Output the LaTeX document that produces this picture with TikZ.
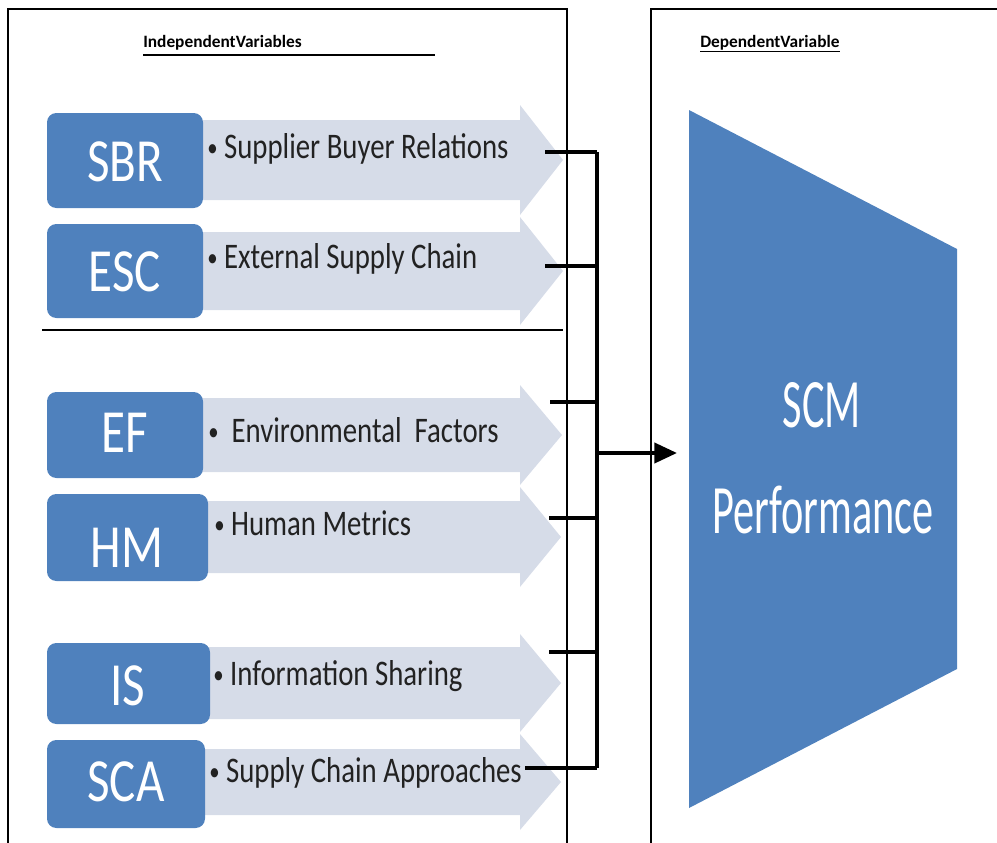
\documentclass[tikz,border=0pt]{standalone}
\usepackage{fontspec}
\setmainfont{Carlito}
\usepackage{graphicx}
\usetikzlibrary{arrows.meta}

\definecolor{boxblue}{HTML}{4F81BD}
\definecolor{chevfill}{HTML}{D6DCE8}
\definecolor{itemink}{HTML}{222222}

% horizontally condensed text
\newcommand{\condensed}[2]{\scalebox{#1}[1]{#2}}
% small bullet in front of each item
\newcommand{\itembullet}{\raisebox{1.5pt}{\scalebox{0.72}{•}}}
% light chevron: left x, centre y, body half height, head half height, tip x
\newcommand{\chevronshape}[5]{%
  \fill[chevfill] (#1,{#2-#3}) -- (520,{#2-#3}) -- (520,{#2-#4}) -- (#5,#2)
    -- (520,{#2+#4}) -- (520,{#2+#3}) -- (#1,{#2+#3}) -- cycle;}

\begin{document}
\begin{tikzpicture}[x=0.75pt,y=-0.75pt,
  framewall/.style={line width=1.1pt},
  varbox/.style={fill=boxblue, rounded corners=7pt},
  boxlabel/.style={text=white, inner sep=0, font=\fontsize{46}{46}\selectfont},
  itemtext/.style={anchor=base west, inner sep=0, text=itemink, font=\fontsize{27}{27}\selectfont},
  header/.style={anchor=base west, inner sep=0, font=\bfseries\fontsize{13}{15}\selectfont},
  perftext/.style={text=white, inner sep=0, anchor=base, font=\fontsize{52}{52}\selectfont},
  bracket/.style={line width=3pt},
  tickline/.style={line width=2.4pt},
]
\useasboundingbox (0,0) rectangle (997,843);

% ---- frames ----
\draw[framewall] (8,843) -- (8,9) -- (567,9) -- (567,843);
\draw[framewall] (651,843) -- (651,9) -- (997,9);

% ---- headers ----
\node[header] (indep) at (143,47) {IndependentVariables};
\draw[line width=1.5pt] (143,55) -- (435,55);
\node[header] (dep) at (700,47) {\underline{DependentVariable}};

% ---- separator between the two groups ----
\draw[line width=1.5pt] (42,330) -- (563,330);

% ---- chevrons ----
\chevronshape{190}{160}{40}{55}{563}
\chevronshape{190}{271}{39}{54}{563}
\chevronshape{190}{435}{37}{50}{562}
\chevronshape{190}{537}{36}{50}{561}
\chevronshape{190}{683}{36}{49}{561}
\chevronshape{190}{782}{33}{48}{561}

% ---- variable boxes ----
\fill[varbox] (47,113) rectangle (203,208);
\fill[varbox] (47,224) rectangle (203,318);
\fill[varbox] (47,392) rectangle (203,478);
\fill[varbox] (47,494) rectangle (208,581);
\fill[varbox] (47,643) rectangle (210,724);
\fill[varbox] (47,740) rectangle (205,828);

\node[boxlabel] (sbr) at (125,162) {\condensed{0.8}{SBR}};
\node[boxlabel] (esc) at (125,272) {\condensed{0.8}{ESC}};
\node[boxlabel] (ef)  at (125,433) {\condensed{0.8}{EF}};
\node[boxlabel] (hm)  at (127,548) {\condensed{0.8}{HM}};
\node[boxlabel] (is)  at (128,686) {\condensed{0.8}{IS}};
\node[boxlabel] (sca) at (126,782) {\condensed{0.8}{SCA}};

% ---- item texts ----
\node[itemtext] (tsbr) at (207,158) {\condensed{0.8}{\itembullet\ Supplier Buyer Relations}};
\node[itemtext] (tesc) at (207,268) {\condensed{0.8}{\itembullet\ External Supply Chain}};
\node[itemtext] (tef)  at (208,442) {\condensed{0.8}{\itembullet\ \ Environmental\ \ Factors}};
\node[itemtext] (thm)  at (214,535) {\condensed{0.8}{\itembullet\ Human Metrics}};
\node[itemtext] (tis)  at (213,685) {\condensed{0.8}{\itembullet\ Information Sharing}};
\node[itemtext] (tsca) at (209,782) {\condensed{0.8}{\itembullet\ Supply Chain Approaches}};

% ---- bracket collecting the variables ----
\coordinate (jtop) at (597,152);
\coordinate (jbot) at (597,768);
\coordinate (jmid) at (597,453);
\coordinate (k1) at (545,152);
\coordinate (k2) at (545,266);
\coordinate (k3) at (550,402);
\coordinate (k4) at (549,518);
\coordinate (k5) at (549,652);
\coordinate (k6) at (525,768);
\draw[bracket] (jtop) -- (jbot);
\foreach \k in {k1,k2,k3,k4,k5,k6}
  \draw[tickline] (\k) -- (\k -| jtop);

% ---- dependent variable ----
\fill[boxblue] (689,110) -- (957,249) -- (957,669) -- (689,808) -- cycle;
\coordinate (perfin) at (677,453);
\draw[bracket, -{Triangle[length=17pt,width=15pt]}] (jmid) -- (perfin);
\node[perftext] (scm) at (822,427) {\condensed{0.61}{SCM}};
\node[perftext] (perf) at (823,533) {\condensed{0.61}{Performance}};
\end{tikzpicture}
\end{document}
